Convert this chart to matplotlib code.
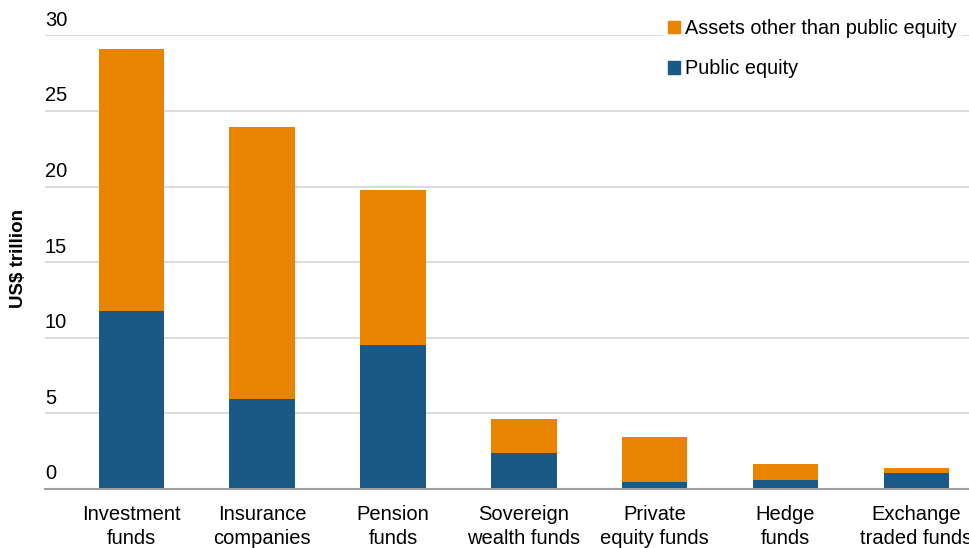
import matplotlib.pyplot as plt
from matplotlib.patches import Patch

plt.rcParams['font.family'] = ['Liberation Sans', 'DejaVu Sans']

categories = ['Investment\nfunds', 'Insurance\ncompanies', 'Pension\nfunds',
              'Sovereign\nwealth funds', 'Private\nequity funds', 'Hedge\nfunds',
              'Exchange\ntraded funds']
total = [29.1, 23.95, 19.8, 4.63, 3.44, 1.65, 1.39]
public_equity = [11.8, 5.96, 9.53, 2.38, 0.46, 0.6, 1.06]
other = [t - p for t, p in zip(total, public_equity)]
yticks = [0, 5, 10, 15, 20, 25, 30]

blue = '#1A5886'
orange = '#E98300'

fig = plt.figure(figsize=(9.7, 5.48), dpi=100)
ax = fig.add_axes([45 / 970, 1 - 489 / 548, 1 - 45 / 970, (489 - 35.3) / 548])

x = range(len(categories))
ax.bar(x, public_equity, width=0.5, color=blue, zorder=3)
ax.bar(x, other, width=0.5, bottom=public_equity, color=orange, zorder=3)

ax.set_xlim(-0.66, 6.41)
ax.set_ylim(0, 30)
ax.set_yticks(yticks)
ax.set_yticklabels([])
ax.tick_params(axis='y', length=0)
ax.yaxis.grid(True, color='#D9D9D9', linewidth=1.3, zorder=0)
for v in yticks:
    ax.annotate(str(v), xy=(0, v), xycoords=ax.get_yaxis_transform(),
                xytext=(0, 4), textcoords='offset points',
                ha='left', va='bottom', fontsize=14.5, color='#000000')

ax.set_xticks(list(x))
ax.set_xticklabels(categories, fontsize=14.5, linespacing=1.35)
ax.tick_params(axis='x', length=0, pad=11.5)

for s in ['top', 'right', 'left']:
    ax.spines[s].set_visible(False)
ax.spines['bottom'].set_color('#A0A0A0')
ax.spines['bottom'].set_linewidth(1.5)
ax.spines['bottom'].set_zorder(4)

fig.text(19 / 970, 1 - 258 / 548, 'US$ trillion', rotation=90, fontsize=13.5,
         fontweight='bold', ha='center', va='center')

handles = [Patch(color=orange, label='Assets other than public equity'),
           Patch(color=blue, label='Public equity')]
leg = fig.legend(handles=handles, loc='upper left', bbox_to_anchor=(664 / 970, 1 - 15 / 548),
                 frameon=True, fontsize=14.3, handlelength=0.6, handleheight=0.6,
                 handletextpad=0.25, labelspacing=1.08, borderpad=0.2, borderaxespad=0)
leg.get_frame().set_facecolor('white')
leg.get_frame().set_edgecolor('white')
leg.get_frame().set_boxstyle('square', pad=0)

fig.savefig('out.png', dpi=100)
